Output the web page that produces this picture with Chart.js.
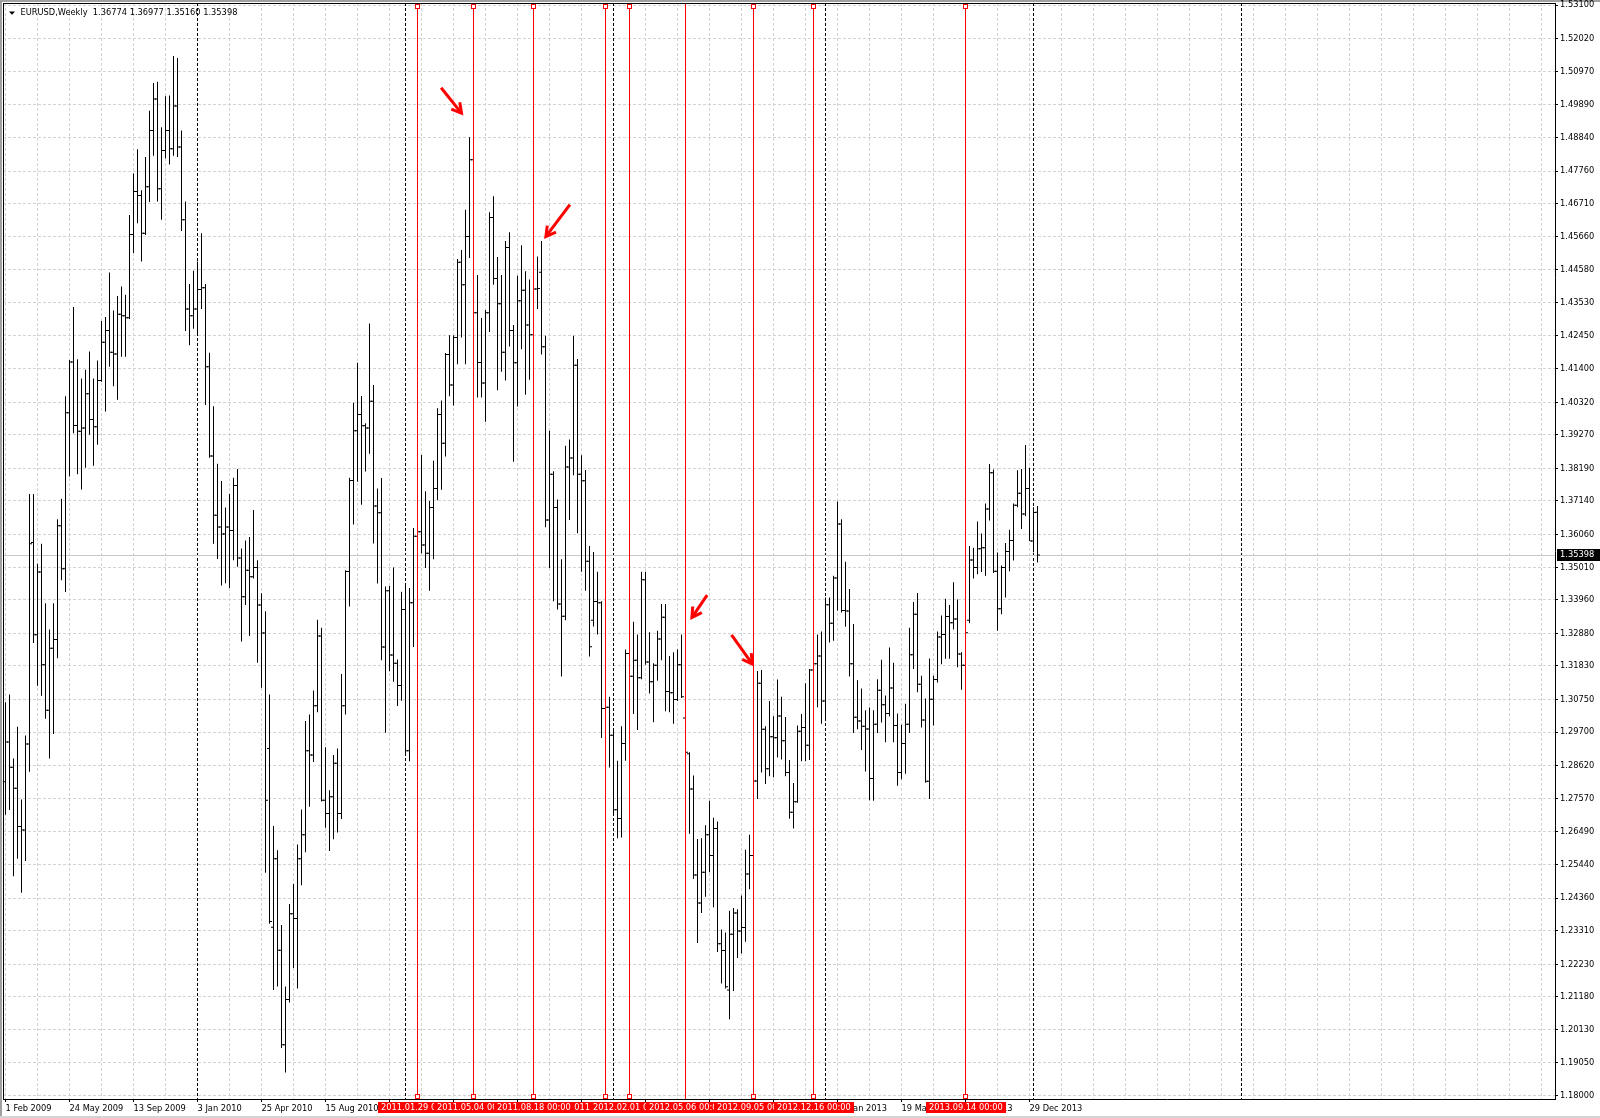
<!DOCTYPE html>
<html><head><meta charset="utf-8">
<script src="https://cdn.jsdelivr.net/npm/chart.js@4.4.1/dist/chart.umd.min.js"></script>
<style>html,body{margin:0;padding:0;background:#fff;overflow:hidden}canvas{display:block}</style>
</head><body>
<canvas id="c" width="1600" height="1118"></canvas>
<script>
// ---------- DATA ----------
const symbolTitle = "EURUSD,Weekly";
const lastOHLC = ["1.36774", "1.36977", "1.35160", "1.35398"];
const bidPrice = 1.35398;

// weekly bars, index 0 = week of 1 Feb 2009
const opens = [
1.2810,1.2938,1.2857,1.2789,1.2666,1.2655,1.2932,1.3580,1.3283,1.3485,
1.3187,1.3040,1.3240,1.3268,1.3634,1.3496,1.3998,1.4161,1.3957,1.3938,
1.3949,1.4059,1.3976,1.3953,1.4102,1.4225,1.4263,1.4193,1.4187,1.4315,
1.4310,1.4304,1.4572,1.4710,1.4697,1.4576,1.4725,1.4906,1.5008,1.4719,
1.4842,1.4906,1.4848,1.4985,1.4853,1.4619,1.4332,1.4310,1.4332,1.4395,
1.4400,1.4146,1.3859,1.3668,1.3630,1.3608,1.3630,1.3619,1.3764,1.3530,
1.3406,1.3491,1.3470,1.3500,1.3379,1.3289,1.2917,1.2342,1.2562,1.2268,
1.1964,1.2109,1.2385,1.2370,1.2562,1.2640,1.2910,1.2896,1.3055,1.3279,
1.2751,1.2708,1.2762,1.2870,1.2708,1.3055,1.3487,1.3780,1.3940,1.3992,
1.3956,1.3949,1.4035,1.3698,1.3676,1.3244,1.3425,1.3218,1.3192,1.3120,
1.3365,1.2910,1.3386,1.3600,1.3615,1.3572,1.3546,1.3693,1.3754,1.3992,
1.3900,1.4185,1.4087,1.4240,1.4482,1.4410,1.4565,1.4812,1.4320,1.4160,
1.4094,1.4320,1.4626,1.4430,1.4349,1.4193,1.4530,1.4263,1.4159,1.4358,
1.4392,1.4280,1.4249,1.4396,1.4450,1.4210,1.3653,1.3800,1.3693,1.3382,
1.3343,1.3823,1.3852,1.4151,1.3800,1.3779,1.3520,1.3330,1.3390,1.3386,
1.3046,1.3050,1.2960,1.2720,1.2692,1.2933,1.3223,1.3150,1.3201,1.3145,
1.3460,1.3196,1.3132,1.3185,1.3270,1.3340,1.3101,1.3097,1.3075,1.3187,
1.3015,1.2900,1.2787,1.2510,1.2420,1.2519,1.2640,1.2573,1.2660,1.2289,
1.2267,1.2140,1.2319,1.2388,1.2330,1.2341,1.2513,1.2573,1.2813,1.3127,
1.2979,1.2852,1.2955,1.2952,1.3022,1.2942,1.2840,1.2712,1.2746,1.2973,
1.2985,1.2928,1.3170,1.3190,1.3215,1.3070,1.3380,1.3320,1.3466,1.3640,
1.3361,1.3360,1.3190,1.3018,1.3006,1.2989,1.2980,1.2821,1.2995,1.3105,
1.3058,1.3030,1.3112,1.2991,1.2840,1.2933,1.2995,1.3219,1.3349,1.3124,
1.3009,1.2812,1.3076,1.3139,1.3276,1.3284,1.3342,1.3322,1.3334,1.3221,
1.3185,1.3330,1.3524,1.3500,1.3560,1.3563,1.3688,1.3805,1.3488,1.3367,
1.3500,1.3551,1.3587,1.3700,1.3739,1.3672,1.3754,1.3585,1.36774];
const highs = [
1.3066,1.3091,1.2885,1.2987,1.2753,1.2959,1.3736,1.3736,1.3512,1.3576,
1.3385,1.3300,1.3385,1.3655,1.3721,1.4051,1.4168,1.4338,1.4170,1.4108,
1.4136,1.4195,1.4108,1.4166,1.4293,1.4306,1.4449,1.4327,1.4374,1.4404,
1.4378,1.4634,1.4768,1.4846,1.4714,1.4821,1.4970,1.5059,1.5063,1.4917,
1.5017,1.5019,1.5146,1.5140,1.4906,1.4678,1.4412,1.4455,1.4485,1.4576,
1.4412,1.4191,1.4019,1.3834,1.3778,1.3693,1.3736,1.3789,1.3817,1.3561,
1.3587,1.3598,1.3685,1.3523,1.3417,1.3359,1.3091,1.2668,1.2590,1.2349,
1.2151,1.2417,1.2481,1.2608,1.2721,1.3006,1.3027,1.3104,1.3332,1.3306,
1.2921,1.2783,1.2896,1.2917,1.3157,1.3491,1.3789,1.4030,1.4159,1.4052,
1.3964,1.4285,1.4087,1.3754,1.3788,1.3439,1.3440,1.3500,1.3204,1.3422,
1.3440,1.3434,1.3627,1.3700,1.3862,1.3745,1.3714,1.3843,1.4012,1.4037,
1.4190,1.4247,1.4247,1.4493,1.4522,1.4651,1.4885,1.4940,1.4441,1.4303,
1.4329,1.4643,1.4695,1.4499,1.4441,1.4551,1.4579,1.4280,1.4439,1.4537,
1.4453,1.4427,1.4480,1.4501,1.4551,1.4246,1.3940,1.3810,1.3719,1.3526,
1.3892,1.3912,1.4246,1.4171,1.3861,1.3814,1.3569,1.3550,1.3486,1.3391,
1.3115,1.3084,1.2975,1.2878,1.2989,1.3236,1.3235,1.3325,1.3284,1.3486,
1.3486,1.3291,1.3192,1.3296,1.3382,1.3382,1.3215,1.3227,1.3236,1.3284,
1.3060,1.2905,1.2830,1.2626,1.2628,1.2670,1.2749,1.2694,1.2682,1.2335,
1.2325,1.2395,1.2404,1.2400,1.2444,1.2591,1.2640,1.2820,1.3167,1.3170,
1.2989,1.3070,1.3021,1.3139,1.3084,1.3019,1.2880,1.2806,1.2991,1.3028,
1.3127,1.3173,1.3300,1.3284,1.3294,1.3403,1.3403,1.3473,1.3712,1.3655,
1.3518,1.3431,1.3318,1.3137,1.3110,1.3040,1.3049,1.3040,1.3140,1.3203,
1.3088,1.3242,1.3193,1.3030,1.2994,1.3061,1.3306,1.3389,1.3418,1.3151,
1.3078,1.3207,1.3151,1.3294,1.3345,1.3399,1.3379,1.3452,1.3397,1.3227,
1.3320,1.3569,1.3563,1.3648,1.3609,1.3706,1.3833,1.3815,1.3548,1.3506,
1.3579,1.3621,1.3706,1.3813,1.3817,1.3894,1.3821,1.3694,1.36977];
const lows = [
1.2704,1.2719,1.2506,1.2562,1.2453,1.2555,1.2842,1.3257,1.3119,1.3087,
1.3013,1.2885,1.2964,1.3208,1.3459,1.3421,1.3793,1.3932,1.3800,1.3751,
1.3821,1.3927,1.3827,1.3895,1.4098,1.4002,1.4146,1.4083,1.4040,1.4178,
1.4178,1.4300,1.4512,1.4608,1.4485,1.4570,1.4676,1.4825,1.4678,1.4619,
1.4817,1.4797,1.4825,1.4821,1.4583,1.4261,1.4215,1.4268,1.4246,1.4332,
1.4023,1.3853,1.3576,1.3527,1.3442,1.3449,1.3434,1.3523,1.3502,1.3262,
1.3379,1.3279,1.3464,1.3193,1.3113,1.2517,1.2353,1.2140,1.2151,1.1953,
1.1874,1.2100,1.2211,1.2145,1.2477,1.2583,1.2730,1.2874,1.3034,1.2747,
1.2662,1.2587,1.2625,1.2647,1.2690,1.3027,1.3374,1.3638,1.3776,1.3702,
1.3809,1.3866,1.3577,1.3448,1.3201,1.2968,1.3166,1.3132,1.3054,1.3071,
1.2900,1.2876,1.3244,1.3540,1.3546,1.3498,1.3425,1.3526,1.3716,1.3750,
1.3857,1.4051,1.4021,1.4154,1.4240,1.4154,1.4496,1.4310,1.4047,1.4047,
1.3969,1.4258,1.4410,1.4070,1.4130,1.4102,1.4211,1.3840,1.4018,1.4202,
1.4056,1.4104,1.4200,1.4332,1.4185,1.3629,1.3498,1.3391,1.3365,1.3149,
1.3330,1.3653,1.3797,1.3610,1.3486,1.3425,1.3213,1.3310,1.3284,1.2951,
1.2980,1.2856,1.2710,1.2628,1.2631,1.2878,1.3030,1.3028,1.2977,1.3140,
1.3187,1.3094,1.3002,1.3135,1.3201,1.3037,1.3034,1.2997,1.3070,1.3080,
1.2900,1.2643,1.2497,1.2291,1.2388,1.2440,1.2519,1.2406,1.2262,1.2161,
1.2145,1.2046,1.2137,1.2243,1.2257,1.2295,1.2464,1.2555,1.2755,1.2840,
1.2803,1.2828,1.2825,1.2888,1.2882,1.2828,1.2691,1.2660,1.2743,1.2876,
1.2876,1.2880,1.3150,1.3050,1.2997,1.3006,1.3258,1.3264,1.3361,1.3355,
1.3309,1.3149,1.2967,1.2979,1.2912,1.2843,1.2751,1.2749,1.2967,1.3001,
1.2937,1.3020,1.2937,1.2797,1.2818,1.2836,1.2967,1.3173,1.3098,1.2985,
1.2807,1.2755,1.2991,1.3130,1.3188,1.3206,1.3206,1.3300,1.3179,1.3106,
1.3175,1.3320,1.3464,1.3478,1.3485,1.3473,1.3651,1.3482,1.3296,1.3349,
1.3403,1.3488,1.3522,1.3694,1.3624,1.3665,1.3585,1.3549,1.35160];
const closes = [
1.2938,1.2857,1.2789,1.2666,1.2655,1.2932,1.3576,1.3283,1.3485,1.3187,
1.3040,1.3240,1.3268,1.3634,1.3496,1.3998,1.4161,1.3957,1.3938,1.3949,
1.4059,1.3976,1.3953,1.4102,1.4225,1.4263,1.4193,1.4187,1.4315,1.4310,
1.4304,1.4572,1.4710,1.4697,1.4576,1.4725,1.4906,1.5008,1.4719,1.4842,
1.4906,1.4848,1.4985,1.4853,1.4619,1.4332,1.4310,1.4332,1.4395,1.4400,
1.4146,1.3859,1.3668,1.3630,1.3608,1.3630,1.3619,1.3764,1.3530,1.3406,
1.3491,1.3470,1.3500,1.3379,1.3289,1.2751,1.2360,1.2562,1.2268,1.1964,
1.2109,1.2385,1.2370,1.2562,1.2640,1.2910,1.2896,1.3055,1.3279,1.2751,
1.2708,1.2762,1.2870,1.2708,1.3055,1.3487,1.3780,1.3940,1.3992,1.3956,
1.3949,1.4035,1.3698,1.3676,1.3244,1.3425,1.3218,1.3192,1.3120,1.3365,
1.2910,1.3386,1.3600,1.3615,1.3572,1.3546,1.3693,1.3754,1.3992,1.3900,
1.4185,1.4087,1.4240,1.4482,1.4410,1.4565,1.4812,1.4320,1.4160,1.4094,
1.4320,1.4626,1.4430,1.4349,1.4193,1.4530,1.4263,1.4159,1.4358,1.4392,
1.4280,1.4249,1.4396,1.4398,1.4210,1.3653,1.3800,1.3693,1.3382,1.3343,
1.3823,1.3852,1.4151,1.3800,1.3779,1.3520,1.3245,1.3390,1.3386,1.3046,
1.3050,1.2960,1.2720,1.2692,1.2933,1.3223,1.3150,1.3201,1.3145,1.3460,
1.3196,1.3132,1.3185,1.3270,1.3340,1.3101,1.3097,1.3075,1.3187,1.3084,
1.2905,1.2787,1.2510,1.2420,1.2519,1.2640,1.2573,1.2660,1.2289,1.2267,
1.2150,1.2319,1.2388,1.2330,1.2341,1.2513,1.2573,1.2813,1.3127,1.2979,
1.2852,1.2955,1.2952,1.3022,1.2942,1.2840,1.2712,1.2746,1.2973,1.2985,
1.2928,1.3170,1.3190,1.3215,1.3070,1.3380,1.3320,1.3466,1.3640,1.3361,
1.3360,1.3190,1.3018,1.3006,1.2989,1.2980,1.2821,1.2995,1.3105,1.3058,
1.3030,1.3112,1.2991,1.2840,1.2933,1.2995,1.3219,1.3349,1.3124,1.3009,
1.2812,1.3076,1.3139,1.3276,1.3284,1.3342,1.3322,1.3334,1.3221,1.3185,
1.3290,1.3524,1.3500,1.3560,1.3563,1.3688,1.3805,1.3488,1.3367,1.3500,
1.3551,1.3587,1.3700,1.3739,1.3672,1.3754,1.3585,1.3677,1.35398];

// price axis labels
const yTickValues = [1.53100,1.52020,1.50970,1.49890,1.48840,1.47760,1.46710,1.45660,1.44580,
1.43530,1.42450,1.41400,1.40320,1.39270,1.38190,1.37140,1.36060,1.35010,1.33960,1.32880,
1.31830,1.30750,1.29700,1.28620,1.27570,1.26490,1.25440,1.24360,1.23310,1.22230,1.21180,
1.20130,1.19050,1.18000];

// time axis labels (bar index -> text)
const xLabelIndex = [0,16,32,48,64,80,96,112,128,144,160,176,192,208,224,240,256];
const xLabels = ["1 Feb 2009","24 May 2009","13 Sep 2009","3 Jan 2010","25 Apr 2010","15 Aug 2010",
"5 Dec 2010","27 Mar 2011","17 Jul 2011","6 Nov 2011","26 Feb 2012","17 Jun 2012","7 Oct 2012",
"27 Jan 2013","19 May 2013","8 Sep 2013","29 Dec 2013"];

// yearly period separators (bar index)
const separatorIndex = [48,100,152,205,257,309];

// red vertical line objects (in drawing order)
const vLineIndex = [103,117,150,132,156,170,187,202,240];
const vLineLabels = ["2011.01.29 00:00","2011.05.04 00:00","2011.12.22 00:00","2011.08.18 00:00",
"2012.02.01 00:00","2012.05.06 00:00","2012.09.05 00:00","2012.12.16 00:00","2013.09.14 00:00"];
const vLineSelected = [true,true,true,true,true,false,true,true,true];

// red arrow objects (bar index / price)
const arrowFromIndex = [108.9, 141.1, 175.4, 181.5];
const arrowFromPrice = [1.5044, 1.4668, 1.3411, 1.3283];
const arrowToIndex   = [114.0, 135.1, 171.6, 186.7];
const arrowToPrice   = [1.4962, 1.4565, 1.3339, 1.3189];

// axis ranges
const xMin = -0.625, xMax = 387.375;
const yMin = 1.178906, yMax = 1.531676;

// ---------- CHART ----------
const FONT = "'DejaVu Sans Condensed', 'Liberation Sans', Arial, sans-serif";
const FSIZE = 9.2;
const tickHalf = (yMax - yMin) / 1096 / 2;   // half a pixel, for the 1px open/close ticks
const gridIndex = [];
for (let v = 0; v <= 384; v += 8) gridIndex.push(v);

const idx = opens.map((_, i) => i);
const hlData = idx.map(i => ({x: i, y: [lows[i], highs[i]]}));
const openData = idx.map(i => ({x: i - 0.375, y: [opens[i] - tickHalf, opens[i] + tickHalf]}));
const closeData = idx.map(i => ({x: i + 0.375, y: [closes[i] - tickHalf, closes[i] + tickHalf]}));

function colPx(scale, v) { return Math.round(scale.getPixelForValue(v) - 0.5) + 0.5; }

function drawArrow(c, x1, y1, x2, y2) {
  const ang = Math.atan2(y2 - y1, x2 - x1);
  const headLen = 11, spread = 0.52;
  c.beginPath(); c.moveTo(x1, y1); c.lineTo(x2 - Math.cos(ang) * 2, y2 - Math.sin(ang) * 2); c.stroke();
  c.beginPath();
  c.moveTo(x2 - headLen * Math.cos(ang - spread), y2 - headLen * Math.sin(ang - spread));
  c.lineTo(x2, y2);
  c.lineTo(x2 - headLen * Math.cos(ang + spread), y2 - headLen * Math.sin(ang + spread));
  c.stroke();
}

const mt4Plugin = {
  id: 'mt4',
  beforeDraw(chart) {
    const c = chart.ctx;
    c.save();
    c.fillStyle = '#fff'; c.fillRect(0, 0, chart.width, chart.height);
    // window border (drawn first so axis labels stay on top)
    c.fillStyle = '#a0a0a0';
    c.fillRect(0, 0, chart.width, 2);
    c.fillRect(0, 0, 2, chart.height);
    c.fillStyle = '#d4d4d4';
    c.fillRect(0, chart.height - 2, chart.width, 2);
    c.restore();
  },
  beforeDatasetsDraw(chart) {
    const c = chart.ctx, a = chart.chartArea, x = chart.scales.x, y = chart.scales.y;
    c.save();
    c.beginPath(); c.rect(a.left, a.top, a.right - a.left, a.bottom - a.top); c.clip();
    c.strokeStyle = '#000'; c.lineWidth = 1; c.setLineDash([3, 2]);
    separatorIndex.forEach(v => {
      const px = colPx(x, v);
      c.beginPath(); c.moveTo(px, a.top); c.lineTo(px, a.bottom); c.stroke();
    });
    c.setLineDash([]);
    c.strokeStyle = '#c8c8c8';
    const py = Math.round(y.getPixelForValue(bidPrice) - 0.5) + 0.5;
    c.beginPath(); c.moveTo(a.left, py); c.lineTo(a.right, py); c.stroke();
    c.restore();
  },
  afterDatasetsDraw(chart) {
    const c = chart.ctx, a = chart.chartArea, x = chart.scales.x, y = chart.scales.y;
    c.save();
    c.strokeStyle = '#ff0000'; c.lineWidth = 1;
    vLineIndex.forEach((v, k) => {
      const px = colPx(x, v);
      c.beginPath(); c.moveTo(px, a.top); c.lineTo(px, a.bottom); c.stroke();
      if (vLineSelected[k]) {
        const col = px - 0.5;
        [4, a.bottom - 5].forEach(y0 => {
          c.fillStyle = '#fff'; c.fillRect(col - 2, y0, 5, 5);
          c.strokeRect(col - 1.5, y0 + 0.5, 4, 4);
        });
      }
    });
    c.strokeStyle = '#ff0000'; c.lineWidth = 3; c.lineCap = 'butt'; c.lineJoin = 'miter';
    arrowFromIndex.forEach((v, k) => {
      drawArrow(c, x.getPixelForValue(v), y.getPixelForValue(arrowFromPrice[k]),
                   x.getPixelForValue(arrowToIndex[k]), y.getPixelForValue(arrowToPrice[k]));
    });
    c.restore();
  },
  afterDraw(chart) {
    const c = chart.ctx, a = chart.chartArea, x = chart.scales.x, y = chart.scales.y;
    c.save();
    c.font = FSIZE + 'px ' + FONT;
    c.textBaseline = 'middle'; c.textAlign = 'left';
    // labels of vertical lines on the time axis
    vLineIndex.forEach((v, k) => {
      const px = colPx(x, v);
      const w = Math.round(c.measureText(vLineLabels[k]).width + 6);
      const x0 = Math.round(px - w / 2);
      c.fillStyle = '#ff0000'; c.fillRect(x0, 1102, w, 11);
      c.fillStyle = '#fff'; c.fillText(vLineLabels[k], x0 + 3, 1107.7);
    });
    // bid price label
    const py = Math.round(y.getPixelForValue(bidPrice));
    c.fillStyle = '#000'; c.fillRect(1557, py - 6, 43, 12);
    c.fillStyle = '#fff'; c.fillText(bidPrice.toFixed(5), 1560, py);
    // header
    c.fillStyle = '#000';
    c.beginPath(); c.moveTo(9, 11.5); c.lineTo(15, 11.5); c.lineTo(12, 14.8); c.closePath(); c.fill();
    c.fillText(symbolTitle + '  ' + lastOHLC.join(' '), 20.5, 13);
    // chart frame
    c.fillStyle = '#000';
    c.fillRect(3, 3, a.right - 3, 1);
    c.fillRect(3, 3, 1, a.bottom - 3);
    c.restore();
  }
};

const barCommon = {backgroundColor: '#000', borderWidth: 0, grouped: false, inflateAmount: 0, borderSkipped: false};

new Chart(document.getElementById('c'), {
  type: 'bar',
  data: {
    datasets: [
      Object.assign({label: 'High-Low', data: hlData, barThickness: 1}, barCommon),
      Object.assign({label: 'Open', data: openData, barThickness: 2}, barCommon),
      Object.assign({label: 'Close', data: closeData, barThickness: 2}, barCommon)
    ]
  },
  options: {
    responsive: false, animation: false, devicePixelRatio: 1, events: [],
    layout: {padding: {left: 3, top: 3, right: 0, bottom: 0}},
    plugins: {legend: {display: false}, tooltip: {enabled: false}, title: {display: false}},
    scales: {
      x: {
        type: 'linear', position: 'bottom', min: xMin, max: xMax, offset: false,
        grid: {
          offset: false, color: '#d3d3d3', lineWidth: 1, drawTicks: true, tickLength: 3, tickWidth: 1,
          tickColor: ctx => (ctx.tick && xLabelIndex.indexOf(ctx.tick.value) >= 0) ? '#000' : 'rgba(0,0,0,0)'
        },
        border: {display: true, color: '#000', width: 1, dash: [3, 2]},
        ticks: {
          autoSkip: false, maxRotation: 0, minRotation: 0, align: 'start', padding: 1, color: '#000',
          font: {family: FONT, size: FSIZE},
          callback: v => { const k = xLabelIndex.indexOf(v); return k >= 0 ? xLabels[k] : ''; }
        },
        afterBuildTicks: s => { s.ticks = gridIndex.map(v => ({value: v})); },
        afterFit: s => { s.height = 19; s.paddingLeft = 0; s.paddingRight = 0; }
      },
      y: {
        type: 'linear', position: 'right', min: yMin, max: yMax, beginAtZero: false,
        grid: {color: '#d3d3d3', lineWidth: 1, drawTicks: true, tickLength: 3, tickWidth: 1, tickColor: '#000'},
        border: {display: true, color: '#000', width: 1, dash: [3, 2]},
        ticks: {
          autoSkip: false, padding: 2, color: '#000', font: {family: FONT, size: FSIZE},
          callback: v => Number(v).toFixed(5)
        },
        afterBuildTicks: s => { s.ticks = yTickValues.map(v => ({value: v})); },
        afterFit: s => { s.width = 45; s.paddingTop = 0; s.paddingBottom = 0; }
      }
    }
  },
  plugins: [mt4Plugin]
});
</script>
</body></html>
